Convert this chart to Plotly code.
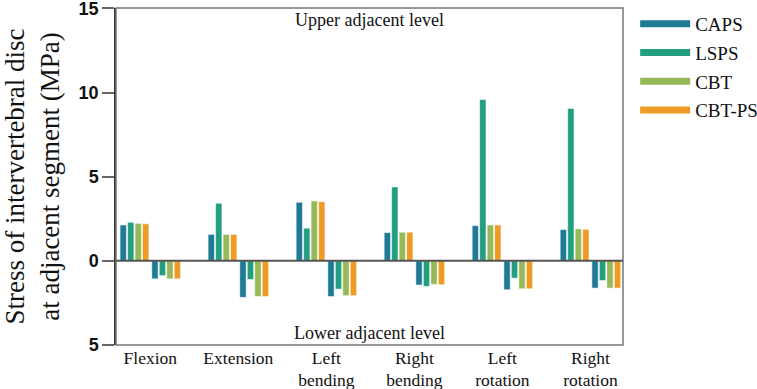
import plotly.graph_objects as go

categories = ["Flexion", "Extension", "Left<br>bending", "Right<br>bending", "Left<br>rotation", "Right<br>rotation"]
series = ["CAPS", "LSPS", "CBT", "CBT-PS"]
colors = ["#1f7a96", "#239e80", "#95b957", "#ee9b25"]

# Upper adjacent level stress (MPa)
upper_caps = [2.13, 1.57, 3.48, 1.68, 2.09, 1.86]
upper_lsps = [2.29, 3.42, 1.94, 4.39, 9.58, 9.05]
upper_cbt = [2.23, 1.57, 3.56, 1.70, 2.13, 1.90]
upper_cbtps = [2.20, 1.57, 3.52, 1.70, 2.13, 1.87]

# Lower adjacent level stress (MPa), plotted downward
lower_caps = [1.07, 2.17, 2.12, 1.44, 1.72, 1.62]
lower_lsps = [0.88, 1.11, 1.68, 1.52, 1.03, 1.17]
lower_cbt = [1.07, 2.12, 2.07, 1.40, 1.66, 1.62]
lower_cbtps = [1.07, 2.12, 2.07, 1.42, 1.66, 1.62]

ytick_vals = [-5, 0, 5, 10, 15]
ytick_text = ["5", "0", "5", "10", "15"]

uppers = [upper_caps, upper_lsps, upper_cbt, upper_cbtps]
lowers = [lower_caps, lower_lsps, lower_cbt, lower_cbtps]

idx = list(range(len(categories)))
off = 0.18
xpos = [i - off for i in idx] + [i + off for i in idx]

fig = go.Figure()
for name, col, up, lo in zip(series, colors, uppers, lowers):
    fig.add_trace(go.Bar(
        x=xpos, y=up + [-v for v in lo], name=name,
        marker=dict(color=col, line=dict(color="rgba(255,255,255,0.55)", width=1)),
        showlegend=False,
    ))
for name, col in zip(series, colors):
    fig.add_trace(go.Scatter(
        x=[None], y=[None], mode="lines", name=name,
        line=dict(color=col, width=7), legendgroup=name,
    ))

serif = "Liberation Serif, Times New Roman, serif"
fig.update_layout(
    width=757, height=389,
    margin=dict(l=116, r=134, t=8, b=44, autoexpand=False),
    paper_bgcolor="white", plot_bgcolor="white",
    barmode="group", bargap=0.055, bargroupgap=0.15,
    font=dict(family=serif, color="#111"),
    legend=dict(x=1.024, y=1.009, xanchor="left", yanchor="top",
                font=dict(family=serif, size=19, color="#111"),
                itemwidth=50, tracegroupgap=1, bgcolor="rgba(0,0,0,0)"),
    xaxis=dict(range=[-0.39, 5.37], tickvals=idx, ticktext=categories,
               showgrid=False, zeroline=False, ticks="", showline=False,
               automargin=False,
               tickfont=dict(family=serif, size=17.5, color="#111")),
    yaxis=dict(range=[-5, 15.02], tickvals=ytick_vals, ticktext=ytick_text,
               showgrid=False, zeroline=False, showline=True, linecolor="#333",
               linewidth=1.5, ticks="outside", ticklen=12, tickcolor="#666",
               tickwidth=1.5, ticklabeloverflow="allow", automargin=False,
               tickfont=dict(family="Liberation Sans, Arial, sans-serif", size=18, color="#111", weight="bold"),
               title=dict(text="Stress of intervertebral disc<br>at adjacent segment (MPa)",
                          font=dict(family=serif, size=27, color="#111"), standoff=13)),
    shapes=[
        dict(type="rect", xref="paper", yref="paper", x0=0, x1=1, y0=0, y1=1,
             line=dict(color="#777", width=1.5), layer="above"),
        dict(type="line", xref="paper", yref="y", x0=0, x1=1, y0=0, y1=0,
             line=dict(color="#555", width=2), layer="above"),
    ],
    annotations=[
        dict(text="Upper adjacent level", xref="paper", yref="paper", x=0.5, y=1.0,
             xanchor="center", yanchor="top", showarrow=False,
             font=dict(family=serif, size=18, color="#111")),
        dict(text="Lower adjacent level", xref="paper", yref="paper", x=0.5, y=0.0,
             xanchor="center", yanchor="bottom", showarrow=False,
             font=dict(family=serif, size=18, color="#111")),
    ],
)
fig.write_html("out.html", config={"displayModeBar": False},
               post_script="document.body.style.margin='0';")
